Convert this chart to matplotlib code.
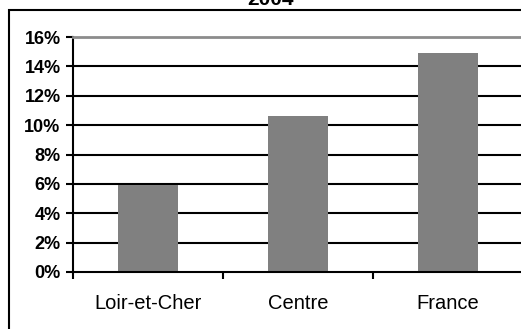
import matplotlib
matplotlib.use("Agg")
import matplotlib.pyplot as plt
from matplotlib.patches import Rectangle
from matplotlib.ticker import FixedLocator, FuncFormatter

# Data
categories = ["Loir-et-Cher", "Centre", "France"]
values = [5.9, 10.6, 14.9]
title = "2004"
y_ticks = [0, 2, 4, 6, 8, 10, 12, 14, 16]

W, H = 521, 329
DPI = 100
plt.rcParams["font.family"] = ["Liberation Sans", "DejaVu Sans"]

fig = plt.figure(figsize=(W / DPI, H / DPI), dpi=DPI, facecolor="white")

# Plot area in pixel coordinates
left_px, right_px, top_px, bottom_px = 73, 523, 37, 272
ax = fig.add_axes([left_px / W, (H - bottom_px) / H,
                   (right_px - left_px) / W, (bottom_px - top_px) / H])

x = range(len(categories))
ax.bar(x, values, width=0.4, color="#808080", zorder=3)

ax.set_xlim(-0.5, len(categories) - 0.5)
ax.set_ylim(0, 16)

# Horizontal gridlines
for t in y_ticks[1:-1]:
    ax.axhline(t, color="black", lw=1.5, zorder=1)

ax.spines["right"].set_visible(False)
ax.spines["top"].set_color("#8c8c8c")
ax.spines["top"].set_linewidth(2.0)
ax.spines["left"].set_linewidth(1.5)
ax.spines["bottom"].set_linewidth(1.5)
ax.spines["bottom"].set_zorder(4)

ax.yaxis.set_major_locator(FixedLocator(y_ticks))
ax.yaxis.set_major_formatter(FuncFormatter(lambda v, p: f"{v:.0f}%"))
ax.tick_params(axis="y", direction="out", length=5, width=1.5, pad=4,
               labelsize=13)
for lbl in ax.get_yticklabels():
    lbl.set_fontweight("bold")

# Category boundary ticks, labels centered between them
ax.xaxis.set_major_locator(FixedLocator([-0.5, 0.5, 1.5, 2.5]))
ax.xaxis.set_major_formatter(FuncFormatter(lambda v, p: ""))
ax.tick_params(axis="x", which="major", direction="out", length=5, width=1.5)
ax.xaxis.set_minor_locator(FixedLocator(list(x)))
ax.set_xticklabels(categories, minor=True)
ax.tick_params(axis="x", which="minor", length=0, pad=16, labelsize=14.5)

# Chart area border
fig.add_artist(Rectangle((8.5 / W, -0.1), 1.0, (H - 10) / H + 0.1,
                         transform=fig.transFigure, fill=False,
                         lw=1.5, ec="black"))

fig.text(270 / W, 1 - 5 / H, title, ha="center", va="baseline",
         fontsize=15, fontweight="bold")

fig.savefig("out.png", dpi=DPI, facecolor="white")
